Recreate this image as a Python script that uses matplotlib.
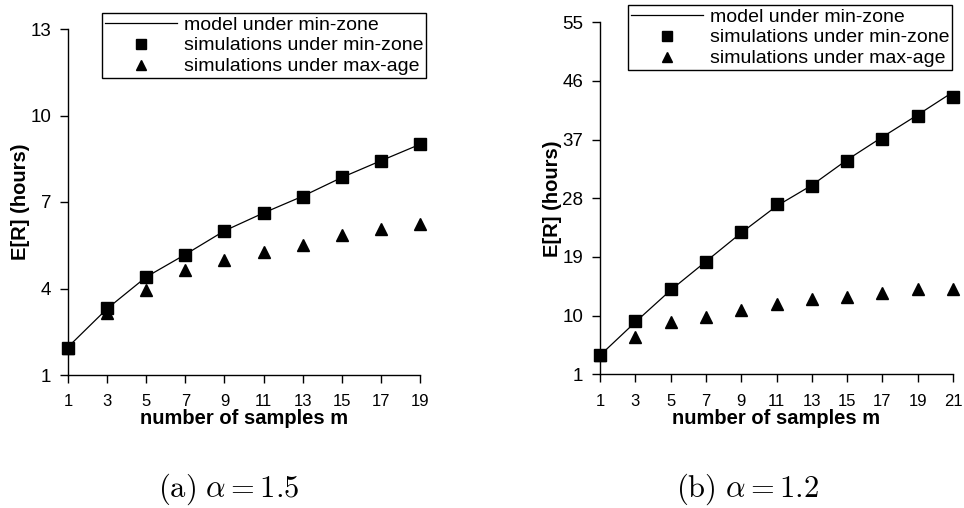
import numpy as np
import matplotlib
matplotlib.use('Agg')
import matplotlib.pyplot as plt
from matplotlib.lines import Line2D

plt.rcParams['font.family'] = ['Liberation Sans', 'DejaVu Sans']
plt.rcParams['mathtext.fontset'] = 'cm'

# panel (a): alpha = 1.5
m_a = [1, 3, 5, 7, 9, 11, 13, 15, 17, 19]
model_a = [1.97, 3.30, 4.40, 5.18, 6.00, 6.62, 7.20, 7.85, 8.43, 9.00]
sim_min_a = [1.93, 3.34, 4.41, 5.16, 6.01, 6.61, 7.18, 7.85, 8.43, 9.02]
sim_max_a = [1.93, 3.14, 3.95, 4.65, 4.99, 5.26, 5.51, 5.84, 6.07, 6.24]

# panel (b): alpha = 1.2
m_b = [1, 3, 5, 7, 9, 11, 13, 15, 17, 19, 21]
model_b = [3.9, 9.0, 13.9, 18.3, 22.7, 26.8, 30.0, 33.9, 37.4, 40.8, 44.3]
sim_min_b = [3.97, 9.23, 14.09, 18.28, 22.88, 27.18, 29.89, 33.72, 37.15, 40.57, 43.54]
sim_max_b = [3.97, 6.67, 9.08, 9.84, 10.87, 11.84, 12.50, 12.81, 13.42, 14.04, 14.04]

yticks_a = [1, 4, 7, 10, 13]
yticks_b = [1, 10, 19, 28, 37, 46, 55]

legend_labels = ['model under min-zone', 'simulations under min-zone', 'simulations under max-age']

fig = plt.figure(figsize=(9.64, 5.08), dpi=100)

panels = [
    ([68, 420, 29, 375], m_a, model_a, sim_min_a, sim_max_a, yticks_a, [102, 13],
     r'$\mathrm{(a)}\ \alpha = 1.5$', 229),
    ([600, 953, 22.3, 374.3], m_b, model_b, sim_min_b, sim_max_b, yticks_b, [628, 5],
     r'$\mathrm{(b)}\ \alpha = 1.2$', 748),
]

W, H = 964, 508
for (x0, x1, ytop, ybot), m, model, smin, smax, yt, (lx, ly), cap, capx in panels:
    ax = fig.add_axes([x0 / W, 1 - ybot / H, (x1 - x0) / W, (ybot - ytop) / H])
    ax.plot(m, model, color='black', lw=0.9, clip_on=False)
    ax.plot(m, smax, linestyle='none', marker='^', color='black', ms=8.5, clip_on=False, zorder=3)
    ax.plot(m, smin, linestyle='none', marker='s', color='black', ms=8.5, clip_on=False, zorder=4)
    ax.set_xlim(m[0], m[-1])
    ax.set_ylim(yt[0], yt[-1])
    ax.set_xticks(m)
    ax.set_yticks(yt)
    for s in ['top', 'right']:
        ax.spines[s].set_visible(False)
    for s in ['left', 'bottom']:
        ax.spines[s].set_linewidth(1.0)
    ax.tick_params(axis='both', direction='out', length=6, width=1, colors='black')
    ax.tick_params(axis='y', pad=6, labelsize=13.5)
    ax.tick_params(axis='x', pad=8, labelsize=12)
    ax.set_ylabel('E[R] (hours)', fontsize=14.5, fontweight='bold', labelpad=0)
    ax.set_xlabel('number of samples m', fontsize=14.5, fontweight='bold', labelpad=0)

    handles = [
        Line2D([], [], color='black', lw=0.9),
        Line2D([], [], linestyle='none', marker='s', color='black', ms=7.5),
        Line2D([], [], linestyle='none', marker='^', color='black', ms=7.5),
    ]
    leg = fig.legend(handles, legend_labels, loc='upper left', bbox_to_anchor=(lx / W, 1 - ly / H),
                     bbox_transform=fig.transFigure, fontsize=14, frameon=True, fancybox=False,
                     framealpha=1, edgecolor='black', handlelength=3.7, handletextpad=0.35,
                     labelspacing=0.17, borderpad=0.15, borderaxespad=0)
    leg.get_frame().set_linewidth(1.0)

    fig.text(capx / W, 1 - 489 / H, cap, ha='center', va='center', fontsize=22)

fig.savefig('out.png', dpi=100)
